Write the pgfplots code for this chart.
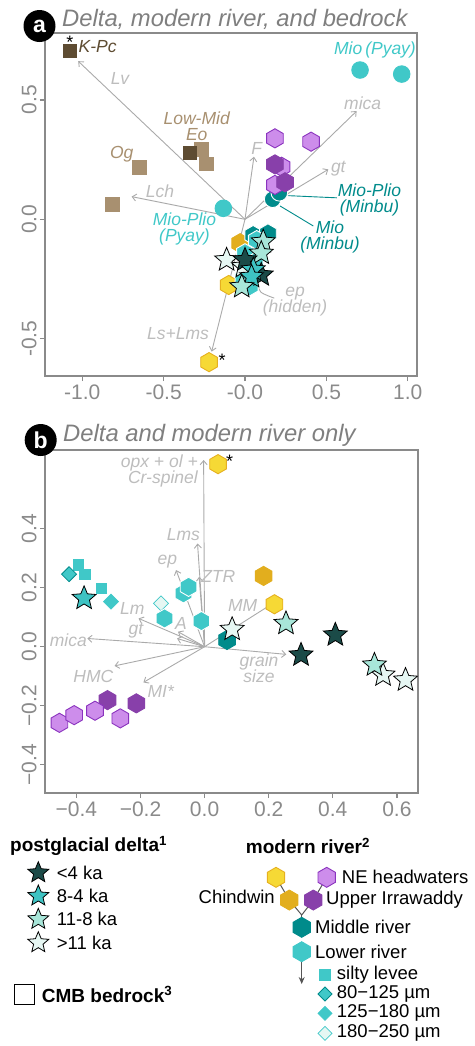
\documentclass[border=0pt]{standalone}
\usepackage{fontspec}
\setmainfont{Liberation Sans}
\usepackage{pgfplots}
\pgfplotsset{compat=1.18}
\usetikzlibrary{arrows.meta}

\definecolor{axgray}{HTML}{8A8A8A}
\definecolor{arrgray}{HTML}{AAAAAA}
\definecolor{lblgray}{HTML}{BDBDBD}
\definecolor{ttlgray}{HTML}{7F7F7F}
\definecolor{dk4}{HTML}{1B4B48}
\definecolor{c84}{HTML}{3EC3C3}
\definecolor{c118}{HTML}{A8E6D9}
\definecolor{c11}{HTML}{E6F7F3}
\definecolor{cyanR}{HTML}{40C8C8}
\definecolor{tealR}{HTML}{008B8B}
\definecolor{yelL}{HTML}{F6D935}
\definecolor{yelE}{HTML}{E6B020}
\definecolor{gold}{HTML}{E2AE1E}
\definecolor{purL}{HTML}{CD8DEB}
\definecolor{purE}{HTML}{8A33BE}
\definecolor{purD}{HTML}{8840AA}
\definecolor{tanB}{HTML}{A89070}
\definecolor{brownD}{HTML}{5E4C32}
\definecolor{legline}{HTML}{555555}

\pgfdeclareplotmark{hex}{%
\pgfpathmoveto{\pgfqpoint{0pt}{\pgfplotmarksize}}%
\pgfpathlineto{\pgfqpoint{0.866\pgfplotmarksize}{0.5\pgfplotmarksize}}%
\pgfpathlineto{\pgfqpoint{0.866\pgfplotmarksize}{-0.5\pgfplotmarksize}}%
\pgfpathlineto{\pgfqpoint{0pt}{-\pgfplotmarksize}}%
\pgfpathlineto{\pgfqpoint{-0.866\pgfplotmarksize}{-0.5\pgfplotmarksize}}%
\pgfpathlineto{\pgfqpoint{-0.866\pgfplotmarksize}{0.5\pgfplotmarksize}}%
\pgfpathclose\pgfusepathqfillstroke}

\pgfdeclareplotmark{fstar}{%
\pgfpathmoveto{\pgfqpoint{0pt}{\pgfplotmarksize}}%
\pgfpathlineto{\pgfqpoint{-0.2645\pgfplotmarksize}{0.364\pgfplotmarksize}}%
\pgfpathlineto{\pgfqpoint{-0.951\pgfplotmarksize}{0.309\pgfplotmarksize}}%
\pgfpathlineto{\pgfqpoint{-0.428\pgfplotmarksize}{-0.139\pgfplotmarksize}}%
\pgfpathlineto{\pgfqpoint{-0.588\pgfplotmarksize}{-0.809\pgfplotmarksize}}%
\pgfpathlineto{\pgfqpoint{0pt}{-0.45\pgfplotmarksize}}%
\pgfpathlineto{\pgfqpoint{0.588\pgfplotmarksize}{-0.809\pgfplotmarksize}}%
\pgfpathlineto{\pgfqpoint{0.428\pgfplotmarksize}{-0.139\pgfplotmarksize}}%
\pgfpathlineto{\pgfqpoint{0.951\pgfplotmarksize}{0.309\pgfplotmarksize}}%
\pgfpathlineto{\pgfqpoint{0.2645\pgfplotmarksize}{0.364\pgfplotmarksize}}%
\pgfpathclose\pgfusepathqfillstroke}

\pgfdeclareplotmark{dia}{%
\pgfpathmoveto{\pgfqpoint{0pt}{\pgfplotmarksize}}%
\pgfpathlineto{\pgfqpoint{\pgfplotmarksize}{0pt}}%
\pgfpathlineto{\pgfqpoint{0pt}{-\pgfplotmarksize}}%
\pgfpathlineto{\pgfqpoint{-\pgfplotmarksize}{0pt}}%
\pgfpathclose\pgfusepathqfillstroke}

\pgfplotsset{
  hexm/.style 2 args={only marks, mark=hex, mark size=9.6pt, mark options={solid, fill=#1, draw=#2, line width=0.9pt}},
  starm/.style={only marks, mark=fstar, mark size=12.5pt, mark options={solid, fill=#1, draw=black, line width=0.8pt, line join=miter}},
  circm/.style 2 args={only marks, mark=*, mark size=8.3pt, mark options={solid, fill=#1, draw=#2, line width=0.9pt}},
  sqm/.style 2 args={only marks, mark=square*, mark size=#2, mark options={solid, fill=#1, draw=#1}},
  diam/.style 2 args={only marks, mark=dia, mark size=7.5pt, mark options={solid, fill=#1, draw=#2, line width=0.8pt}},
  arr/.style={arrgray, line width=0.9pt, -{Straight Barb[length=4pt,width=7pt]}},
  panel/.style={scale only axis, clip=false,
    axis line style={axgray, line width=1.5pt},
    tick style={axgray, line width=1.3pt}, tick align=outside, major tick length=5pt,
    tick pos=left,
    ticklabel style={font=\fontsize{21}{24}\selectfont, text=axgray},
    yticklabel style={rotate=90, anchor=south},
  },
}

\newcommand{\lbl}{\fontsize{17.5}{19}\selectfont\itshape}
\newcommand{\leg}{\fontsize{18.5}{21}\selectfont}

\begin{document}
\begin{tikzpicture}
\path[use as bounding box] (0pt,0pt) rectangle (474pt,-1046pt);

% ---------------- panel a ----------------
\begin{axis}[panel, at={(45pt,-376pt)}, anchor=south west, width=372pt, height=343pt,
  xmin=-1.229, xmax=1.057, ymin=-0.656, ymax=0.78,
  xtick={-1,-0.5,0,0.5,1}, xticklabels={-1.0,-0.5,-0.0,0.5,1.0},
  ytick={-0.5,0,0.5}, yticklabels={-0.5,0.0,0.5}]
% loadings
\addplot[arr] coordinates {(0,0) (-1.025,0.662)};
\addplot[arr] coordinates {(0,0) (0.686,0.453)};
\addplot[arr] coordinates {(0,0) (0.055,0.262)};
\addplot[arr] coordinates {(0,0) (0.512,0.209)};
\addplot[arr] coordinates {(0,0) (-0.697,0.095)};
\addplot[arr] coordinates {(0,0) (-0.205,-0.554)};
\addplot[arrgray, line width=0.9pt, smooth] coordinates {(0.074,-0.262) (0.098,-0.305) (0.18,-0.33)};
\addplot[tealR, line width=0.9pt] coordinates {(0.266,0.099) (0.564,0.090)};
\addplot[tealR, line width=0.9pt] coordinates {(0.215,0.056) (0.420,-0.028)};
% bedrock
\addplot[sqm={tanB}{6.7pt}] coordinates {(-0.270,0.293) (-0.238,0.234) (-0.650,0.218) (-0.816,0.063)};
\addplot[sqm={brownD}{6.7pt}] coordinates {(-1.076,0.705) (-0.338,0.280)};
% Pyay & Minbu
\addplot[circm={cyanR}{cyanR}] coordinates {(0.707,0.625) (0.963,0.608) (-0.133,0.046)};
\addplot[circm={tealR}{white}] coordinates {(0.170,0.084) (0.211,0.111)};
% purple
\addplot[hexm={purL}{purE}] coordinates {(0.184,0.339) (0.406,0.325) (0.225,0.220) (0.184,0.144)};
\addplot[hexm={purD}{purD}] coordinates {(0.184,0.230) (0.246,0.155)};
% cluster hexes
\addplot[hexm={gold}{gold}] coordinates {(-0.03,-0.10)};
\addplot[hexm={yelL}{yelE}] coordinates {(-0.10,-0.275) (-0.221,-0.598)};
\addplot[hexm={tealR}{white}] coordinates {(0.05,-0.066) (0.141,-0.059)};
\addplot[hexm={cyanR}{white}] coordinates {(0.072,-0.087) (0.0,-0.142) (0.06,-0.18) (-0.01,-0.247) (0.03,-0.28)};
% stars
\addplot[starm={c11}] coordinates {(-0.113,-0.17) (-0.01,-0.198)};
\addplot[starm={c118}] coordinates {(0.112,-0.094) (0.10,-0.142)};
\addplot[starm={dk4}] coordinates {(0.0,-0.17) (0.10,-0.233)};
\addplot[starm={c84}] coordinates {(0.051,-0.211) (0.04,-0.24)};
\addplot[starm={c118}] coordinates {(-0.02,-0.282)};
\end{axis}

% ---------------- panel b ----------------
\begin{axis}[panel, at={(45pt,-793pt)}, anchor=south west, width=373pt, height=343pt,
  xmin=-0.498, xmax=0.666, ymin=-0.496, ymax=0.667,
  xtick={-0.4,-0.2,0,0.2,0.4,0.6}, xticklabels={−0.4,−0.2,0.0,0.2,0.4,0.6},
  ytick={-0.4,-0.2,0,0.2,0.4}, yticklabels={−0.4,−0.2,0.0,0.2,0.4}]
\addplot[arr] coordinates {(0,0) (-0.003,0.633)};
\addplot[arr] coordinates {(0,0) (-0.022,0.350)};
\addplot[arr] coordinates {(0,0) (-0.089,0.260)};
\addplot[arr] coordinates {(0,0) (-0.017,0.237)};
\addplot[arr] coordinates {(0,0) (-0.206,0.096)};
\addplot[arr] coordinates {(0,0) (-0.083,0.051)};
\addplot[arr] coordinates {(0,0) (-0.086,0.028)};
\addplot[arr] coordinates {(0,0) (-0.366,0.028)};
\addplot[arr] coordinates {(0,0) (-0.281,-0.065)};
\addplot[arr] coordinates {(0,0) (-0.191,-0.121)};
\addplot[arr] coordinates {(0,0) (0.255,-0.026)};
\addplot[arrgray, line width=0.9pt] coordinates {(0,0) (0.20,0.138)};
% points
\addplot[hexm={yelL}{yelE}] coordinates {(0.042,0.619) (0.218,0.144)};
\addplot[hexm={gold}{gold}] coordinates {(0.184,0.240)};
\addplot[sqm={cyanR}{5.3pt}] coordinates {(-0.394,0.279) (-0.375,0.246) (-0.323,0.198)};
\addplot[diam={cyanR}{tealR}] coordinates {(-0.423,0.246)};
\addplot[diam={cyanR}{cyanR}] coordinates {(-0.292,0.153)};
\addplot[diam={c11}{cyanR}] coordinates {(-0.136,0.147)};
\addplot[hexm={cyanR}{white}] coordinates {(-0.066,0.181) (-0.05,0.203) (-0.125,0.096) (-0.01,0.087)};
\addplot[hexm={tealR}{tealR}] coordinates {(0.070,0.023)};
\addplot[hexm={purD}{purD}] coordinates {(-0.303,-0.181) (-0.213,-0.192)};
\addplot[hexm={purL}{purE}] coordinates {(-0.453,-0.258) (-0.407,-0.232) (-0.342,-0.217) (-0.263,-0.243)};
\addplot[starm={c84}] coordinates {(-0.376,0.164)};
\addplot[starm={c11}] coordinates {(0.086,0.059) (0.557,-0.096) (0.627,-0.113)};
\addplot[starm={c118}] coordinates {(0.254,0.079) (0.530,-0.062)};
\addplot[starm={dk4}] coordinates {(0.408,0.040) (0.301,-0.028)};
\end{axis}

% ---------------- overlay: text and legend (pixel coordinates) ----------------
\begin{axis}[at={(0pt,0pt)}, anchor=north west, scale only axis, width=474pt, height=1046pt,
  xmin=0, xmax=474, ymin=0, ymax=1046, y dir=reverse, hide axis, clip=false]
% panel labels
\node[circle, fill=black, minimum size=32pt, inner sep=0pt, text=white, font=\fontsize{23}{23}\selectfont\bfseries] at (axis cs:39.5,26) {a};
\node[circle, fill=black, minimum size=32pt, inner sep=0pt, text=white, font=\fontsize{23}{23}\selectfont\bfseries] at (axis cs:40.7,440) {b};
\node[anchor=base west, inner sep=0pt, text=ttlgray, font=\fontsize{23.8}{26}\selectfont\itshape] at (axis cs:62,26) {Delta, modern river, and bedrock};
\node[anchor=base west, inner sep=0pt, text=ttlgray, font=\fontsize{23.8}{26}\selectfont\itshape] at (axis cs:63,441.7) {Delta and modern river only};
% panel a labels
\node[anchor=west, inner sep=0pt, text=brownD, font=\lbl] at (axis cs:78.5,46.7) {K-Pc};
\node[text=black, inner sep=0pt, font=\fontsize{18}{18}\selectfont] at (axis cs:70,42) {*};
\node[text=black, inner sep=0pt, font=\fontsize{18}{18}\selectfont] at (axis cs:222,360) {*};
\node[text=tanB, inner sep=0pt, align=center, font=\lbl] at (axis cs:196.7,125.8) {Low-Mid\\[-3pt]Eo};
\node[text=tanB, inner sep=0pt, font=\lbl] at (axis cs:121.7,154) {Og};
\node[text=lblgray, inner sep=0pt, font=\lbl] at (axis cs:120,78) {Lv};
\node[text=lblgray, inner sep=0pt, font=\lbl] at (axis cs:362.7,103.3) {mica};
\node[text=lblgray, inner sep=0pt, font=\lbl] at (axis cs:256.7,148.3) {F};
\node[text=lblgray, inner sep=0pt, font=\lbl] at (axis cs:338.3,168.3) {gt};
\node[text=lblgray, inner sep=0pt, font=\lbl] at (axis cs:160,191.7) {Lch};
\node[text=lblgray, inner sep=0pt, font=\lbl] at (axis cs:178,333.3) {Ls+Lms};
\node[text=lblgray, inner sep=0pt, align=center, font=\lbl] at (axis cs:295,302) {ep\\[-3pt](hidden)};
\node[text=cyanR, inner sep=0pt, font=\lbl] at (axis cs:375,50) {Mio\,(Pyay)};
\node[text=cyanR, inner sep=0pt, align=center, font=\lbl] at (axis cs:184.5,229) {Mio-Plio\\[-3pt](Pyay)};
\node[text=tealR, inner sep=0pt, align=center, font=\lbl] at (axis cs:369.5,200.3) {Mio-Plio\\[-3pt](Minbu)};
\node[text=tealR, inner sep=0pt, align=center, font=\lbl] at (axis cs:330,237.2) {Mio\\[-3pt](Minbu)};
% panel b labels
\node[text=black, inner sep=0pt, font=\fontsize{18}{18}\selectfont] at (axis cs:229.5,461) {*};
\node[anchor=east, text=lblgray, inner sep=0pt, align=right, font=\lbl] at (axis cs:198,470.5) {opx + ol +\\[-3pt]Cr-spinel};
\node[text=lblgray, inner sep=0pt, font=\lbl] at (axis cs:183.3,535) {Lms};
\node[text=lblgray, inner sep=0pt, font=\lbl] at (axis cs:167.3,561.7) {ep};
\node[text=lblgray, inner sep=0pt, font=\lbl] at (axis cs:218.3,576) {ZTR};
\node[text=lblgray, inner sep=0pt, font=\lbl] at (axis cs:132.3,608.3) {Lm};
\node[text=lblgray, inner sep=0pt, font=\lbl] at (axis cs:181,623.3) {A};
\node[text=lblgray, inner sep=0pt, font=\lbl] at (axis cs:136,631) {gt};
\node[text=lblgray, inner sep=0pt, font=\lbl] at (axis cs:68.3,640) {mica};
\node[text=lblgray, inner sep=0pt, font=\lbl] at (axis cs:93.3,676) {HMC};
\node[text=lblgray, inner sep=0pt, font=\lbl] at (axis cs:160.7,691.7) {MI*};
\node[text=lblgray, inner sep=0pt, align=center, font=\lbl] at (axis cs:259,668.3) {grain\\[-3pt]size};
\node[text=lblgray, inner sep=0pt, font=\lbl] at (axis cs:242.7,605.7) {MM};
% legend: postglacial delta
\node[anchor=west, inner sep=0pt, font=\fontsize{19}{21}\selectfont\bfseries] at (axis cs:10,846) {postglacial delta\textsuperscript{1}};
\addplot[starm={dk4}, mark size=11pt] coordinates {(38.3,872.7)};
\addplot[starm={c84}, mark size=11pt] coordinates {(38.3,896)};
\addplot[starm={c118}, mark size=11pt] coordinates {(38.3,919.3)};
\addplot[starm={c11}, mark size=11pt] coordinates {(38.3,942.7)};
\node[anchor=west, inner sep=0pt, font=\leg] at (axis cs:56.7,872.7) {<4 ka};
\node[anchor=west, inner sep=0pt, font=\leg] at (axis cs:56.7,896) {8-4 ka};
\node[anchor=west, inner sep=0pt, font=\leg] at (axis cs:56.7,919.3) {11-8 ka};
\node[anchor=west, inner sep=0pt, font=\leg] at (axis cs:56.7,942.7) {>11 ka};
\addplot[only marks, mark=square, mark size=9.7pt, mark options={solid, draw=black, fill=white, line width=1pt}] coordinates {(24.3,994.3)};
\node[anchor=west, inner sep=0pt, font=\fontsize{19}{21}\selectfont\bfseries] at (axis cs:41.7,994.3) {CMB bedrock\textsuperscript{3}};
% legend: modern river
\node[inner sep=0pt, font=\fontsize{19}{21}\selectfont\bfseries] at (axis cs:308,846) {modern river\textsuperscript{2}};
\addplot[legline, line width=1pt] coordinates {(276,877.3) (289.3,900) (301.7,915) (313.3,900) (326.7,877.3)};
\addplot[legline, line width=1pt] coordinates {(301.7,915) (301.7,927.3)};
\addplot[legline, line width=1.2pt, -{Stealth[length=7pt,width=6pt]}] coordinates {(301.7,951.7) (301.7,984)};
\addplot[hexm={yelL}{yelE}, mark size=10pt] coordinates {(276,877.3)};
\addplot[hexm={gold}{gold}, mark size=10pt] coordinates {(289.3,900)};
\addplot[hexm={purD}{purD}, mark size=10pt] coordinates {(313.3,900)};
\addplot[hexm={purL}{purE}, mark size=10pt] coordinates {(326.7,877.3)};
\addplot[hexm={tealR}{tealR}, mark size=10pt] coordinates {(301.7,927.3)};
\addplot[hexm={cyanR}{cyanR}, mark size=10pt] coordinates {(301.7,951.7)};
\node[anchor=west, inner sep=0pt, font=\leg] at (axis cs:341.7,877.3) {NE headwaters};
\node[anchor=east, inner sep=0pt, font=\leg] at (axis cs:275,897.3) {Chindwin};
\node[anchor=west, inner sep=0pt, font=\leg] at (axis cs:326,900) {Upper Irrawaddy};
\node[anchor=west, inner sep=0pt, font=\leg] at (axis cs:315,927.3) {Middle river};
\node[anchor=west, inner sep=0pt, font=\leg] at (axis cs:315,951.7) {Lower river};
\addplot[sqm={cyanR}{5.5pt}] coordinates {(325,974.3)};
\addplot[diam={cyanR}{tealR}, mark size=7pt] coordinates {(325,994)};
\addplot[diam={cyanR}{cyanR}, mark size=7pt] coordinates {(325,1013.3)};
\addplot[diam={c11}{cyanR}, mark size=7pt] coordinates {(325,1033.3)};
\node[anchor=west, inner sep=0pt, font=\leg] at (axis cs:336.7,974.3) {silty levee};
\node[anchor=west, inner sep=0pt, font=\leg] at (axis cs:336.7,994) {80−125 µm};
\node[anchor=west, inner sep=0pt, font=\leg] at (axis cs:336.7,1013.3) {125−180 µm};
\node[anchor=west, inner sep=0pt, font=\leg] at (axis cs:336.7,1033.3) {180−250 µm};
\end{axis}
\end{tikzpicture}
\end{document}
